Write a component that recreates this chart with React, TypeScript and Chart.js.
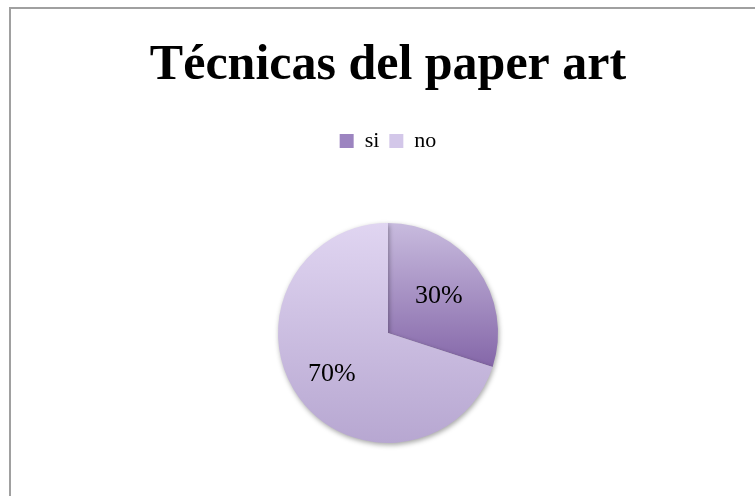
import React, { useEffect, useRef } from "react";
import { Chart, registerables } from "chart.js";

Chart.register(...registerables);

const title = "Técnicas del paper art";
const categories = ["si", "no"];
const values = [30, 70];
const labelTexts = ["30%", "70%"];
const labelRadiusFractions = [0.57, 0.63];

const FONT = "'Liberation Serif', 'DejaVu Serif', serif";
const PIE_RADIUS = 110;

export default function App() {
  const ref = useRef<HTMLCanvasElement | null>(null);

  useEffect(() => {
    if (!ref.current) return;
    const ctx = ref.current.getContext("2d")!;

    const makeFill = (chart: any, idx: number) => {
      const area = chart.chartArea;
      if (!area) return idx === 0 ? "#a48cc6" : "#cbbde3";
      const cy = (area.top + area.bottom) / 2;
      const r = PIE_RADIUS;
      const c = chart.ctx as CanvasRenderingContext2D;
      if (idx === 0) {
        const g = c.createLinearGradient(0, cy - r, 0, cy + r * 0.32);
        g.addColorStop(0, "#c8bbde");
        g.addColorStop(1, "#8466a8");
        return g;
      }
      const g = c.createLinearGradient(0, cy - r, 0, cy + r);
      g.addColorStop(0, "#e0d5f1");
      g.addColorStop(1, "#b7a7d1");
      return g;
    };

    const labelPlugin = {
      id: "sliceLabels",
      afterDatasetsDraw(chart: any) {
        const meta = chart.getDatasetMeta(0);
        const c = chart.ctx as CanvasRenderingContext2D;
        c.save();
        c.font = `26px ${FONT}`;
        c.fillStyle = "#000";
        c.textAlign = "center";
        c.textBaseline = "middle";
        meta.data.forEach((arc: any, i: number) => {
          const mid = (arc.startAngle + arc.endAngle) / 2;
          const rr = arc.outerRadius * labelRadiusFractions[i];
          c.fillText(labelTexts[i], arc.x + Math.cos(mid) * rr, arc.y + Math.sin(mid) * rr);
        });
        c.restore();
      },
    };

    const shadowPlugin = {
      id: "pieShadow",
      beforeDatasetsDraw(chart: any) {
        const c = chart.ctx as CanvasRenderingContext2D;
        c.save();
        c.shadowColor = "rgba(0,0,0,0.35)";
        c.shadowBlur = 5;
        c.shadowOffsetX = 1;
        c.shadowOffsetY = 2;
      },
      afterDatasetsDraw(chart: any) {
        chart.ctx.restore();
      },
    };

    const chart = new Chart(ctx, {
      type: "pie",
      data: {
        labels: categories,
        datasets: [
          {
            data: values,
            backgroundColor: (context: any) => makeFill(context.chart, context.dataIndex),
            borderWidth: 0,
            radius: PIE_RADIUS,
          } as any,
        ],
      },
      options: {
        animation: false,
        responsive: false,
        maintainAspectRatio: false,
        layout: { padding: { top: 0, bottom: 25, left: 0, right: 0 } },
        plugins: {
          tooltip: { enabled: false },
          title: {
            display: true,
            text: title,
            color: "#000",
            font: { family: FONT, size: 50, weight: "bold" },
            padding: { top: 27, bottom: 24 },
          },
          legend: {
            display: true,
            position: "top",
            labels: {
              color: "#000",
              font: { family: FONT, size: 22 },
              boxWidth: 14,
              boxHeight: 14,
              padding: 10,
              generateLabels: () =>
                categories.map((cat, i) => ({
                  text: cat,
                  fillStyle: i === 0 ? "#9c84c0" : "#d3c7e9",
                  strokeStyle: "transparent",
                  lineWidth: 0,
                  hidden: false,
                  index: i,
                })),
            },
          },
        },
      },
      plugins: [shadowPlugin, labelPlugin],
    });
    return () => chart.destroy();
  }, []);

  return (
    <div
      style={{
        position: "fixed",
        left: 0,
        top: 0,
        width: 755,
        height: 496,
        overflow: "hidden",
        background: "#fff",
      }}
    >
      <div
        style={{
          position: "absolute",
          left: 9,
          top: 7,
          width: 800,
          height: 560,
          borderLeft: "2px solid #a0a0a0",
          borderTop: "2px solid #a0a0a0",
        }}
      />
      <canvas
        ref={ref}
        width={754}
        height={520}
        style={{ position: "absolute", left: 11, top: 9 }}
      />
    </div>
  );
}
